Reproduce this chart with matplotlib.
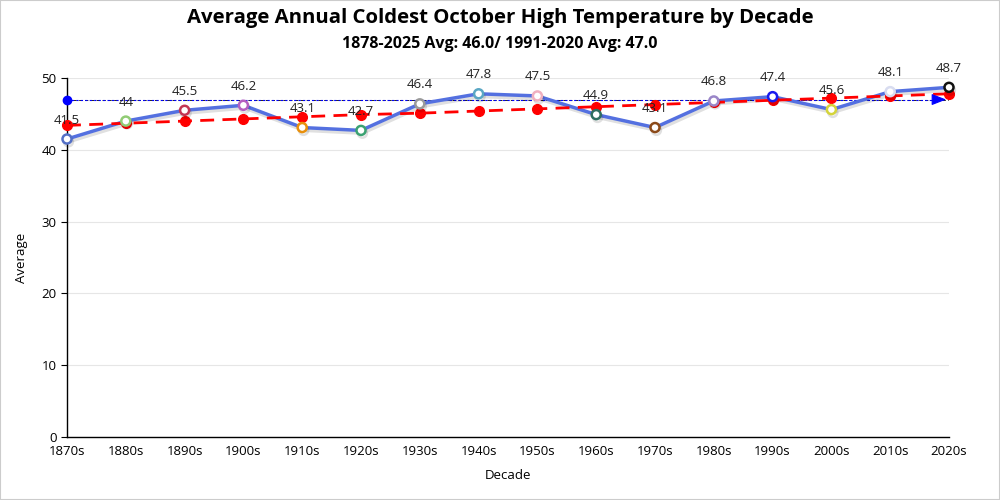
import matplotlib.pyplot as plt
import matplotlib.patheffects as pe
import numpy as np

plt.rcParams['font.family'] = ['Open Sans', 'DejaVu Sans']

decades = ['1870s', '1880s', '1890s', '1900s', '1910s', '1920s', '1930s', '1940s',
           '1950s', '1960s', '1970s', '1980s', '1990s', '2000s', '2010s', '2020s']
average = [41.5, 44, 45.5, 46.2, 43.1, 42.7, 46.4, 47.8,
           47.5, 44.9, 43.1, 46.8, 47.4, 45.6, 48.1, 48.7]
trend = [43.4, 43.7, 44.0, 44.3, 44.6, 44.9, 45.1, 45.4,
         45.7, 46.0, 46.3, 46.6, 46.9, 47.2, 47.5, 47.8]
normal_avg = 47.0
marker_colors = ['#5470c6', '#91cc75', '#c23553', '#b55fc0', '#e8900c', '#3ba272',
                 '#9a9a9a', '#5aa7c4', '#f0b0c0', '#2f6f60', '#8b4a1a', '#9a86c8',
                 '#1a1aee', '#d4d43a', '#d8dcf0', '#111111']

x = np.arange(len(decades))

fig = plt.figure(figsize=(10, 5), dpi=100)
fig.patches.append(plt.Rectangle((0, 0), 1, 1, transform=fig.transFigure,
                                 fill=False, edgecolor='#cccccc', linewidth=1.5))
ax = fig.add_axes([0.067, 0.126, 0.882, 0.718])

ax.grid(axis='y', color='#e6e6e6', linewidth=0.8)
ax.set_axisbelow(True)

# reference line (1991-2020 average)
ax.axhline(normal_avg, color='black', linestyle=(0, (4, 3)), linewidth=0.6, zorder=1)
ax.plot([x[0], x[-1] - 0.1], [normal_avg, normal_avg], color='blue',
        linestyle=(0, (2, 2)), linewidth=0.8, zorder=2)
ax.plot(x[0], normal_avg, 'o', color='blue', markersize=6, zorder=5, clip_on=False)
ax.annotate('', xy=(x[-1], normal_avg), xytext=(x[-1] - 0.3, normal_avg),
            arrowprops=dict(arrowstyle='-|>,head_length=0.9,head_width=0.35',
                            color='blue', lw=0.8), zorder=5, annotation_clip=False)

# trend line
ax.plot(x, trend, color='red', linestyle=(0, (5, 3)), linewidth=2, marker='o',
        markersize=7, zorder=4, clip_on=False)

# main series
shadow = [pe.SimpleLineShadow(offset=(1, -2), shadow_color='black', alpha=0.12),
          pe.Normal()]
ax.plot(x, average, color='#5470e0', linewidth=2.5, zorder=3, path_effects=shadow)
for xi, yi, c in zip(x, average, marker_colors):
    ax.plot(xi, yi, 'o', markersize=6.5, markerfacecolor='white', markeredgecolor=c,
            markeredgewidth=1.8, zorder=6, clip_on=False, path_effects=shadow)
    ax.annotate(f'{yi:g}', (xi, yi), xytext=(0, 9), textcoords='offset points',
                ha='center', va='bottom', fontsize=9.5, color='#222222', zorder=7)

ax.set_xlim(0, len(decades) - 1)
ax.set_ylim(0, 50)
ax.set_xticks(x)
ax.set_xticklabels(decades, fontsize=9.5)
ax.set_yticks(range(0, 51, 10))
ax.tick_params(axis='y', labelsize=9.5, length=4)
ax.tick_params(axis='x', length=0, pad=6)
for s in ['top', 'right']:
    ax.spines[s].set_visible(False)
for s in ['left', 'bottom']:
    ax.spines[s].set_color('black')
    ax.spines[s].set_linewidth(1)

ax.set_xlabel('Decade', fontsize=9.5, labelpad=8)
ax.set_ylabel('Average', fontsize=9.5, labelpad=10)

fig.text(0.5, 0.965, 'Average Annual Coldest October High Temperature by Decade',
         ha='center', va='center', fontsize=14.7, fontweight='bold')
fig.text(0.5, 0.912, '1878-2025 Avg: 46.0/ 1991-2020 Avg: 47.0',
         ha='center', va='center', fontsize=11.5, fontweight='bold')

fig.savefig('out.png', dpi=100)
